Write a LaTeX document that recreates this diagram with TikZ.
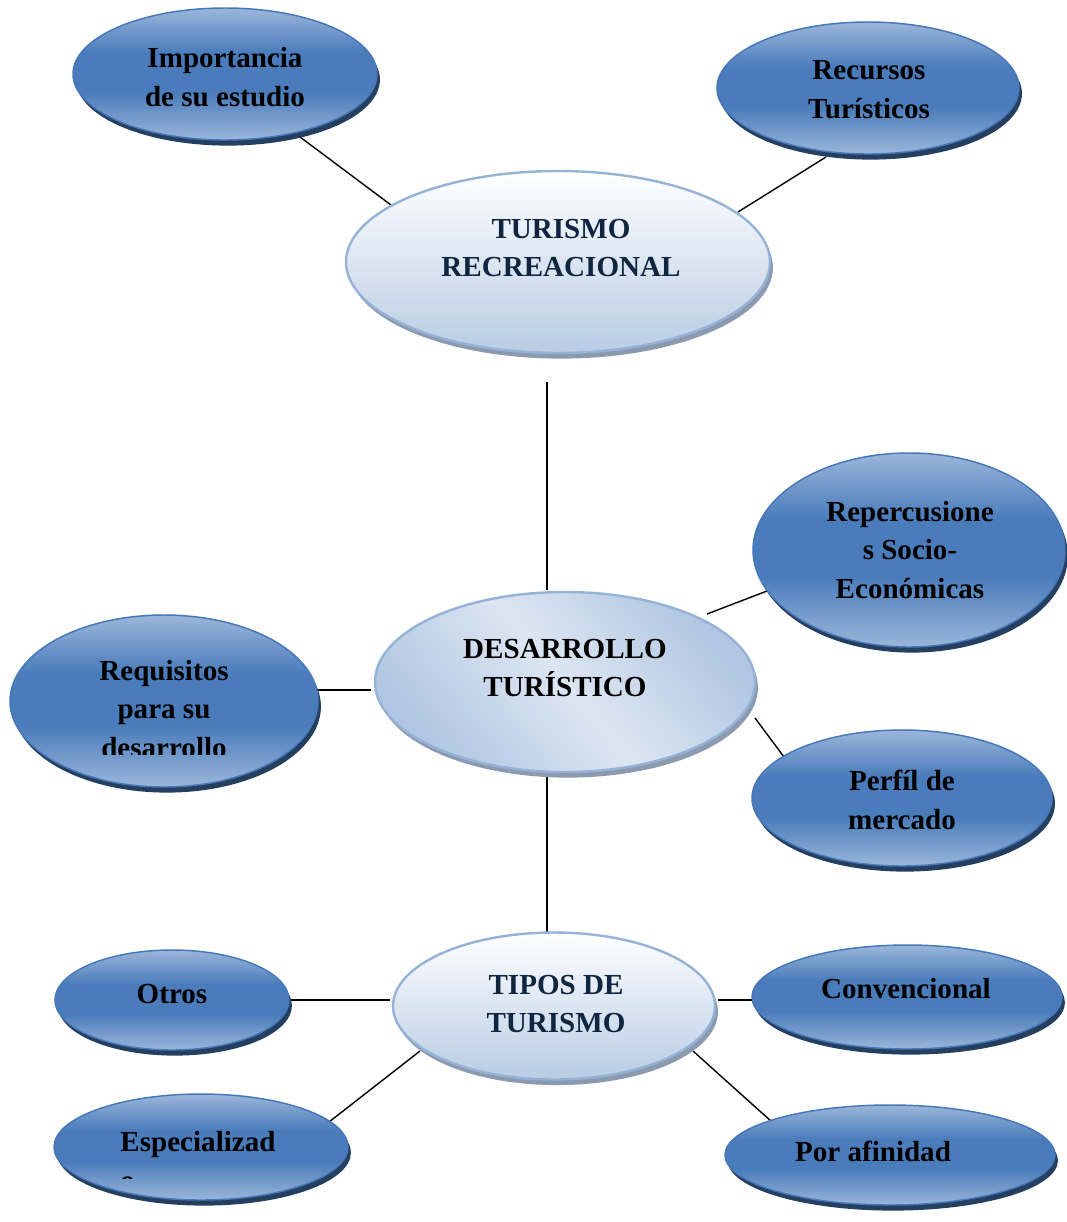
\documentclass[tikz,border=0pt]{standalone}
\usepackage{fontspec}
\setmainfont{Liberation Serif}
\usetikzlibrary{shapes.geometric,shadows,calc}

% palette
\definecolor{dkL}{HTML}{9BB6DA}
\definecolor{dkM}{HTML}{4A7CBB}
\definecolor{dkEdge}{HTML}{4677B8}
\definecolor{dkShadow}{HTML}{243F60}
\definecolor{ltT}{HTML}{FFFFFF}
\definecolor{ltB}{HTML}{B8CCE4}
\definecolor{ltEdge}{HTML}{95B3D7}
\definecolor{ltShadow}{HTML}{8C9AAF}
\definecolor{dtA}{HTML}{B0C6E2}
\definecolor{dtL}{HTML}{DCE6F2}
\definecolor{navytext}{HTML}{10253F}

% fills
\pgfdeclareverticalshading{darkfill}{100bp}{color(0bp)=(dkL); color(25bp)=(dkL); color(43bp)=(dkM); color(58bp)=(dkM); color(75bp)=(dkL); color(100bp)=(dkL)}
\pgfdeclareverticalshading{lightfill}{100bp}{color(0bp)=(ltB); color(25bp)=(ltB); color(75bp)=(ltT); color(100bp)=(ltT)}
\pgfdeclarehorizontalshading{dtfill}{100bp}{color(0bp)=(dtA); color(25bp)=(dtA); color(50bp)=(dtL); color(75bp)=(dtA); color(100bp)=(dtA)}

\pgfdeclarelayer{background}
\pgfsetlayers{background,main}

\begin{document}
\begin{tikzpicture}[x=0.75pt,y=-0.75pt,
  size/.style 2 args={minimum width=#1*0.75pt, minimum height=#2*0.75pt},
  darkell/.style={ellipse, inner sep=0pt, draw=dkEdge, line width=1.1pt, shading=darkfill,
    general shadow={fill=dkShadow, shadow xshift=2.2pt, shadow yshift=-4.2pt}},
  lightell/.style={ellipse, inner sep=0pt, draw=ltEdge, line width=1.8pt, shading=lightfill,
    general shadow={fill=ltShadow, shadow xshift=2.2pt, shadow yshift=-4.2pt}},
  midell/.style={lightell, shading=dtfill, shading angle=40},
  txt/.style={font=\bfseries\fontsize{21.8}{29.2}\selectfont, align=center, inner sep=0pt},
  conn/.style={draw=black, line width=1.05pt}]

\begin{pgfonlayer}{background}
  \fill[white] (0,0) rectangle (1067,1222);
\end{pgfonlayer}
\useasboundingbox (0,0) rectangle (1067,1222);

% ---- concept ellipses
\node[lightell, size={424}{182}] (tr) at (558,262) {};
\node[midell,   size={380}{180}] (dt) at (565,682) {};
\node[lightell, size={322}{147}] (tipos) at (554,1006) {};

\node[darkell, size={304}{132}] (imp)  at (225,74)  {};
\node[darkell, size={302}{132}] (rec)  at (868,88)  {};
\node[darkell, size={312}{194}] (rep)  at (909,550) {};
\node[darkell, size={308}{172}] (req)  at (164,701) {};
\node[darkell, size={300}{136}] (perf) at (902,798) {};
\node[darkell, size={234}{100}] (otros) at (172,1000) {};
\node[darkell, size={310}{104}] (conv) at (907,997) {};
\node[darkell, size={330}{100}] (por)  at (890,1155) {};
\node[darkell, size={294}{106}] (esp)  at (201,1147) {};

% ---- labels
\node[txt, text=navytext] (trT) at (561,248) {TURISMO\\RECREACIONAL};
\node[txt] (dtT) at (565,668) {DESARROLLO\\TURÍSTICO};
\node[txt, text=navytext] (tiposT) at (556,1004) {TIPOS DE\\TURISMO};

\node[txt] (impT)  at (225,77)  {Importancia\\de su estudio};
\node[txt] (recT)  at (869,90)  {Recursos\\Turísticos};
\node[txt] (repT)  at (910,550) {Repercusione\\s Socio-\\Económicas};
\node[txt] (perfT) at (902,800) {Perfíl de\\mercado};
\node[txt] (otrosT) at (172,994) {Otros};
\node[txt] (convT) at (906,989) {Convencional};
\node[txt] (porT)  at (873,1151) {Por afinidad};

\begin{scope}
  \clip (0,600) rectangle (1067,754);
  \node[txt] (reqT) at (164,709) {Requisitos\\para su\\desarrollo};
\end{scope}
\begin{scope}
  \clip (0,1090) rectangle (1067,1178);
  \node[txt, align=left] (espT) at (198,1161) {Especializad\\o};
\end{scope}

% ---- connectors (kept under the ellipses)
\begin{pgfonlayer}{background}
\draw[conn] ($(imp)+(63,54)$)   -- ($(tr)+(-163,-54)$);
\draw[conn] ($(rec)+(-42,69)$)  -- ($(tr)+(180,-50)$);
\draw[conn] ($(tr)+(-11,120)$)  -- ($(dt)+(-18,-92)$);
\draw[conn] ($(dt)+(142,-68)$)  -- ($(rep)+(-142,41)$);
\draw[conn] ($(req)+(154,-11)$) -- ($(dt)+(-194,8)$);
\draw[conn] ($(dt)+(190,36)$)   -- ($(perf)+(-115,-37)$);
\draw[conn] ($(dt)+(-18,93)$)   -- ($(tipos)+(-7,-73)$);
\draw[conn] ($(otros)+(118,0)$) -- ($(tipos)+(-164,-6)$);
\draw[conn] ($(tipos)+(164,-6)$) -- ($(conv)+(-154,3)$);
\draw[conn] ($(tipos)+(-134,45)$) -- ($(esp)+(128,-25)$);
\draw[conn] ($(tipos)+(139,45)$) -- ($(por)+(-118,-33)$);
\end{pgfonlayer}
\end{tikzpicture}
\end{document}
